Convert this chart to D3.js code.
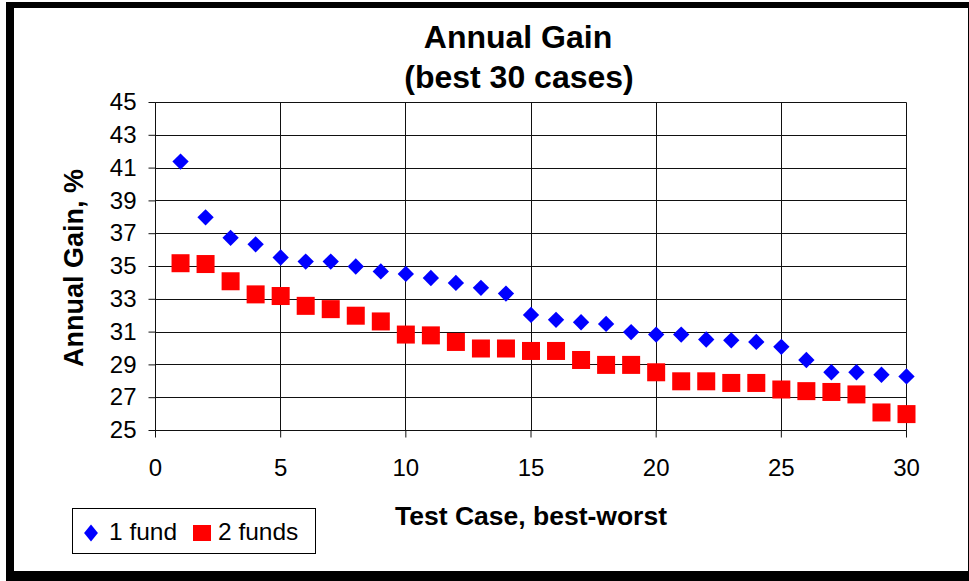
<!DOCTYPE html>
<html>
<head>
<meta charset="utf-8">
<script src="https://cdn.jsdelivr.net/npm/d3@7"></script>
<style>
  body { margin: 0; background: #fff; }
  text { font-family: "Liberation Sans", Arial, sans-serif; }
</style>
</head>
<body>
<div id="chart"></div>
<script>
// data
var testCases = d3.range(1, 31);
var oneFund = [41.4, 38.0, 36.75, 36.35, 35.55, 35.3, 35.3, 35.0, 34.7, 34.55,
               34.3, 34.0, 33.7, 33.35, 32.05, 31.75, 31.6, 31.5, 31.0, 30.85,
               30.85, 30.55, 30.5, 30.4, 30.1, 29.3, 28.55, 28.55, 28.4, 28.3];
var twoFunds = [35.2, 35.15, 34.1, 33.3, 33.2, 32.6, 32.4, 32.0, 31.65, 30.85,
                30.8, 30.4, 30.0, 30.0, 29.85, 29.85, 29.3, 29.0, 29.0, 28.55,
                28.0, 28.0, 27.9, 27.9, 27.5, 27.4, 27.35, 27.2, 26.1, 26.0];
var xTicks = [0, 5, 10, 15, 20, 25, 30];
var yTicks = [25, 27, 29, 31, 33, 35, 37, 39, 41, 43, 45];
var seriesNames = ["1 fund", "2 funds"];

// set the dimensions and margins of the graph
var W = 969, H = 581;
var margin = { top: 102.5, right: 62.5, bottom: 150.5, left: 155.5 },
    width = W - margin.left - margin.right,
    height = H - margin.top - margin.bottom;

var svg = d3.select("#chart").append("svg")
    .attr("width", W)
    .attr("height", H);

// outer frame (thick black edges like the original)
svg.append("rect").attr("x", 6).attr("y", 2).attr("width", 963).attr("height", 579).attr("fill", "#000");
svg.append("rect").attr("x", 14).attr("y", 8).attr("width", 954).attr("height", 563).attr("fill", "#fff");

var g = svg.append("g")
    .attr("transform", "translate(" + margin.left + "," + margin.top + ")");

// set the ranges
var x = d3.scaleLinear().domain([0, 30]).range([0, width]);
var y = d3.scaleLinear().domain([25, 45]).range([height, 0]);

// gridlines
g.append("g").selectAll("line")
    .data(yTicks)
    .enter().append("line")
    .attr("x1", 0).attr("x2", width)
    .attr("y1", function(d) { return Math.round(y(d)); })
    .attr("y2", function(d) { return Math.round(y(d)); })
    .attr("stroke", "#111").attr("stroke-width", 1);

g.append("g").selectAll("line")
    .data(xTicks)
    .enter().append("line")
    .attr("x1", function(d) { return Math.round(x(d)); })
    .attr("x2", function(d) { return Math.round(x(d)); })
    .attr("y1", 0).attr("y2", height)
    .attr("stroke", "#111").attr("stroke-width", 1);

// axes
var xAxis = g.append("g")
    .attr("transform", "translate(0," + Math.round(height) + ")")
    .call(d3.axisBottom(x).tickValues(xTicks).tickSize(7).tickPadding(21).tickSizeOuter(0)
        .offset(0).tickFormat(d3.format("d")));
var yAxis = g.append("g")
    .call(d3.axisLeft(y).tickValues(yTicks).tickSize(7).tickPadding(12).tickSizeOuter(0)
        .offset(0).tickFormat(d3.format("d")));

[xAxis, yAxis].forEach(function(a) {
    a.select(".domain").attr("stroke", "#111");
    a.selectAll(".tick line").attr("stroke", "#111");
    a.selectAll(".tick text")
        .attr("fill", "#000")
        .style("font-size", "24px")
        .style("font-family", "'Liberation Sans', Arial, sans-serif");
});

// points
var diamond = d3.symbol().type(d3.symbolDiamond2).size(170);

g.append("g").selectAll("path")
    .data(oneFund)
    .enter().append("path")
    .attr("d", diamond)
    .attr("transform", function(d, i) { return "translate(" + x(testCases[i]) + "," + y(d) + ")"; })
    .attr("fill", "#0000ff");

g.append("g").selectAll("rect")
    .data(twoFunds)
    .enter().append("rect")
    .attr("x", function(d, i) { return x(testCases[i]) - 9; })
    .attr("y", function(d) { return y(d) - 9; })
    .attr("width", 18).attr("height", 18)
    .attr("fill", "#ff0000");

// titles
svg.append("text")
    .attr("x", 518).attr("y", 48)
    .attr("text-anchor", "middle")
    .style("font-size", "32px").style("font-weight", "bold")
    .text("Annual Gain");
svg.append("text")
    .attr("x", 519).attr("y", 88)
    .attr("text-anchor", "middle")
    .style("font-size", "32px").style("font-weight", "bold")
    .text("(best 30 cases)");

svg.append("text")
    .attr("x", 531).attr("y", 525)
    .attr("text-anchor", "middle")
    .style("font-size", "26.5px").style("font-weight", "bold")
    .text("Test Case, best-worst");

svg.append("text")
    .attr("transform", "translate(83,268) rotate(-90)")
    .attr("text-anchor", "middle")
    .style("font-size", "27px").style("font-weight", "bold")
    .text("Annual Gain, %");

// legend
var legend = svg.append("g").attr("transform", "translate(72,508)");
legend.append("rect")
    .attr("x", 0.5).attr("y", 0.5).attr("width", 243).attr("height", 45)
    .attr("fill", "#fff").attr("stroke", "#000");
legend.append("path")
    .attr("d", diamond)
    .attr("transform", "translate(19,25) scale(0.85,1.05)")
    .attr("fill", "#0000ff");
legend.append("text")
    .attr("x", 37).attr("y", 32)
    .style("font-size", "24.5px")
    .text(seriesNames[0]);
legend.append("rect")
    .attr("x", 121).attr("y", 17).attr("width", 18).attr("height", 16)
    .attr("fill", "#ff0000");
legend.append("text")
    .attr("x", 146).attr("y", 32)
    .style("font-size", "24.5px")
    .text(seriesNames[1]);
</script>
</body>
</html>
